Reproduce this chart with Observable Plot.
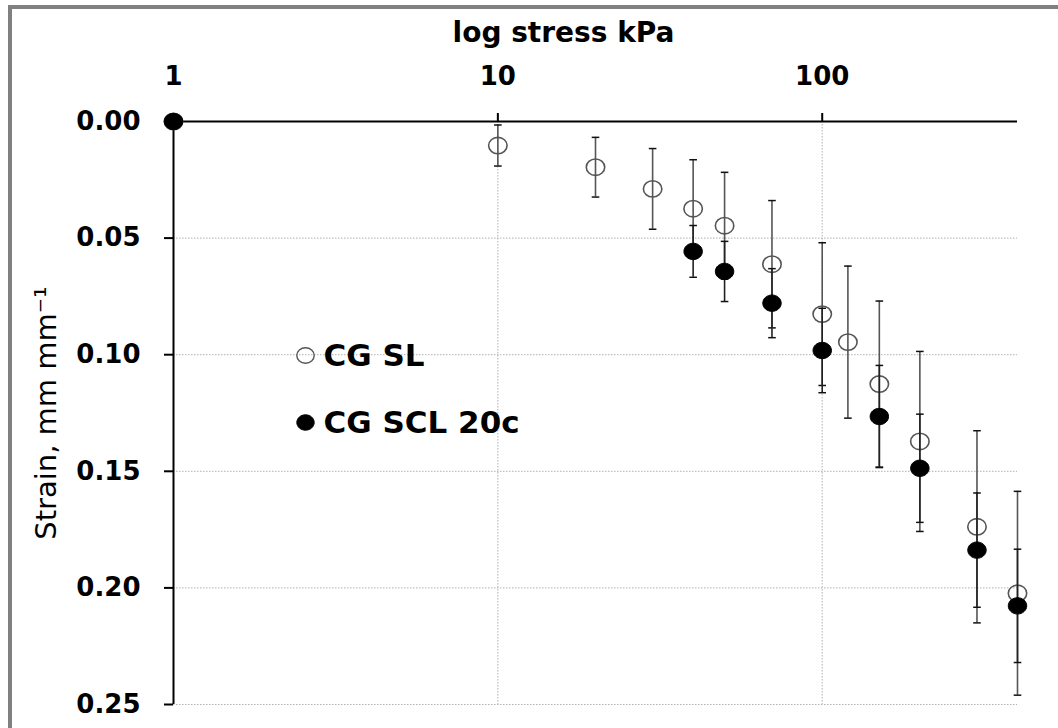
<!DOCTYPE html>
<html>
<head>
<meta charset="utf-8">
<script src="https://cdn.jsdelivr.net/npm/d3@7"></script>
<script src="https://cdn.jsdelivr.net/npm/@observablehq/plot@0.6"></script>
<style>
  html, body { margin: 0; padding: 0; background: white; overflow: hidden; }
  #frame { position: absolute; left: 8px; top: 5px; width: 1200px; height: 900px;
           border-top: 4px solid #808080; border-left: 4px solid #808080; box-sizing: border-box; }
  #chart { position: absolute; left: 0; top: 0; }
</style>
</head>
<body>
<div id="frame"></div>
<div id="chart"></div>
<script>
// ---- data ----
const stressSL  = [1, 10, 20, 30, 40, 50, 70, 100, 120, 150, 200, 300, 400];
const strainSL  = [0, 0.0103, 0.0196, 0.0289, 0.0374, 0.0447, 0.0612, 0.0826, 0.0946, 0.1126, 0.1372, 0.1738, 0.2023];
const errSL     = [0, 0.0088, 0.0128, 0.0173, 0.0210, 0.0229, 0.0273, 0.0306, 0.0326, 0.0356, 0.0386, 0.0412, 0.0437];

const stressSCL = [1, 40, 50, 70, 100, 150, 200, 300, 400];
const strainSCL = [0, 0.0557, 0.0643, 0.0779, 0.0982, 0.1265, 0.1487, 0.1838, 0.2077];
const errSCL    = [0, 0.0111, 0.0129, 0.0148, 0.0181, 0.0219, 0.0232, 0.0245, 0.0243];

const xTicks = [1, 10, 100];
const yTicks = [0, 0.05, 0.10, 0.15, 0.20, 0.25];
const seriesNames = ["CG SL", "CG SCL 20c"];
const xTitle = "log stress kPa";
const yTitle = "Strain, mm mm\u207B\u00B9";

// ---- tables ----
const sl  = stressSL.map((s, i) => ({s, v: strainSL[i], e: errSL[i]}));
const scl = stressSCL.map((s, i) => ({s, v: strainSCL[i], e: errSCL[i]}));
const slErr = sl.filter(d => d.e > 0);
const sclErr = scl.filter(d => d.e > 0);

// slightly wide ellipse marker (reference markers are stretched)
const ellipse = {
  draw(ctx, size) {
    const r = Math.sqrt(size / Math.PI), rx = r * 1.06, ry = r * 0.94, k = 0.5523;
    ctx.moveTo(rx, 0);
    ctx.bezierCurveTo(rx, ry * k, rx * k, ry, 0, ry);
    ctx.bezierCurveTo(-rx * k, ry, -rx, ry * k, -rx, 0);
    ctx.bezierCurveTo(-rx, -ry * k, -rx * k, -ry, 0, -ry);
    ctx.bezierCurveTo(rx * k, -ry, rx, -ry * k, rx, 0);
    ctx.closePath();
  }
};
const cap = {
  draw(ctx, size) {
    const r = Math.sqrt(size / Math.PI);
    ctx.moveTo(-r, 0); ctx.lineTo(r, 0);
  }
};

const W = 1058, H = 728;
const mL = 173, mR = 41, mT = 121, mB = 24;

const chart = Plot.plot({
  width: W, height: H,
  marginLeft: mL, marginRight: mR, marginTop: mT, marginBottom: mB,
  style: {fontFamily: "DejaVu Sans", background: "transparent", color: "black", overflow: "visible"},
  x: {type: "log", domain: [1, 400]},
  y: {domain: [0, 0.25], reverse: true},
  marks: [
    Plot.gridY(yTicks.slice(1), {stroke: "#b0b0b0", strokeOpacity: 1, strokeWidth: 1, strokeDasharray: "1.5,1.5"}),
    Plot.gridX([10, 100], {stroke: "#b0b0b0", strokeOpacity: 1, strokeWidth: 1, strokeDasharray: "1.5,1.5"}),
    Plot.ruleY([0], {stroke: "black", strokeWidth: 2}),
    Plot.ruleX([1], {stroke: "black", strokeWidth: 2}),
    Plot.axisX({anchor: "top", ticks: xTicks, tickFormat: d => String(d), tickSize: 9, tickPadding: 28,
      fontSize: 26, fontWeight: "bold", strokeWidth: 2, label: null}),
    Plot.axisY({anchor: "left", ticks: yTicks, tickFormat: d => d.toFixed(2), tickSize: 9, tickPadding: 24,
      fontSize: 26, fontWeight: "bold", strokeWidth: 2, label: null}),
    Plot.text([xTitle], {frameAnchor: "top", text: d => d, dx: -32, dy: -80, lineAnchor: "bottom",
      fontSize: 28, fontWeight: "bold", fill: "black"}),
    Plot.text([yTitle], {frameAnchor: "left", text: d => d, dx: -127, rotate: -90, textAnchor: "middle",
      lineAnchor: "middle", fontSize: 29, fill: "black"}),

    // CG SL error bars + open markers
    Plot.ruleX(slErr, {x: "s", y1: d => d.v - d.e, y2: d => d.v + d.e, stroke: "#555", strokeWidth: 1.6}),
    Plot.dot(slErr, {x: "s", y: d => d.v - d.e, symbol: cap, r: 3.8, stroke: "#111", strokeWidth: 1.5}),
    Plot.dot(slErr, {x: "s", y: d => d.v + d.e, symbol: cap, r: 3.8, stroke: "#111", strokeWidth: 1.5}),
    Plot.dot(sl, {x: "s", y: "v", symbol: ellipse, r: 8.7, stroke: "#555", strokeWidth: 1.6, fill: "none"}),

    // CG SCL 20c error bars + filled markers
    Plot.ruleX(sclErr, {x: "s", y1: d => d.v - d.e, y2: d => d.v + d.e, stroke: "#222", strokeWidth: 1.6}),
    Plot.dot(sclErr, {x: "s", y: d => d.v - d.e, symbol: cap, r: 3.8, stroke: "#111", strokeWidth: 1.5}),
    Plot.dot(sclErr, {x: "s", y: d => d.v + d.e, symbol: cap, r: 3.8, stroke: "#111", strokeWidth: 1.5}),
    Plot.dot(scl, {x: "s", y: "v", symbol: ellipse, r: 8.7, fill: "black", stroke: "black", strokeWidth: 1}),

    // legend
    Plot.dot([seriesNames[0]], {frameAnchor: "top-left", dx: 132, dy: 234, symbol: ellipse, r: 8.2,
      stroke: "#555", strokeWidth: 1.4, fill: "none"}),
    Plot.text([seriesNames[0]], {frameAnchor: "top-left", text: d => d, dx: 150, dy: 235, textAnchor: "start",
      lineAnchor: "middle", fontSize: 31, fontWeight: "bold", fill: "black"}),
    Plot.dot([seriesNames[1]], {frameAnchor: "top-left", dx: 132, dy: 301, symbol: ellipse, r: 8.2,
      fill: "black", stroke: "black", strokeWidth: 1}),
    Plot.text([seriesNames[1]], {frameAnchor: "top-left", text: d => d, dx: 150, dy: 302, textAnchor: "start",
      lineAnchor: "middle", fontSize: 31, fontWeight: "bold", fill: "black"})
  ]
});
document.getElementById("chart").appendChild(chart);
</script>
</body>
</html>
